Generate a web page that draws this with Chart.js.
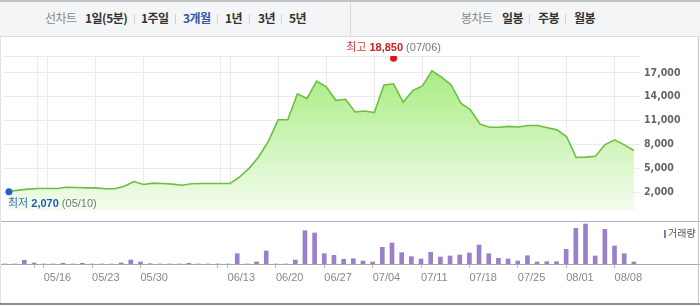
<!DOCTYPE html>
<html>
<head>
<meta charset="utf-8">
<script src="https://cdn.jsdelivr.net/npm/chart.js@4.4.0/dist/chart.umd.min.js"></script>
<style>
    body { margin: 0; background: #fff; }
    #caja { position: relative; width: 700px; height: 306px; overflow: hidden; font-family: "Noto Sans CJK KR", sans-serif; }
    #cabecera { position: absolute; left: 0; top: 0; width: 700px; height: 34px; background: #f4f5f7; border-top: 2px solid #c4c4c4; border-bottom: 1px solid #dcdcdc; }
    #cabecera span { position: absolute; top: 8px; font-size: 12px; font-weight: bold; color: #333; line-height: 16px; white-space: nowrap; letter-spacing: -0.5px; }
    #cabecera span.gris { color: #888; font-weight: normal; }
    #cabecera span.azul { color: #3656a8; }
    #cabecera i { position: absolute; top: 12px; width: 1px; height: 10px; background: #d2d2d2; }
    #divisor { position: absolute; left: 350px; top: 0; width: 1px; height: 34px; background: #dadada; }
    .linea { position: absolute; background: #c8c8c8; }
    canvas { position: absolute; left: 0; }
</style>
</head>
<body>
<div id="caja">
    <div id="cabecera">
        <span class="gris" style="left:45px">선차트</span>
        <span style="left:85px">1일(5분)</span><i style="left:134px"></i>
        <span style="left:141px">1주일</span><i style="left:175px"></i>
        <span class="azul" style="left:183px">3개월</span><i style="left:217px"></i>
        <span style="left:225px">1년</span><i style="left:249px"></i>
        <span style="left:258px">3년</span><i style="left:281px"></i>
        <span style="left:289px">5년</span>
        <div id="divisor"></div>
        <span class="gris" style="left:461px">봉차트</span>
        <span style="left:502px">일봉</span><i style="left:529px"></i>
        <span style="left:538px">주봉</span><i style="left:565px"></i>
        <span style="left:574px">월봉</span>
    </div>
    <canvas id="graficoPrecio" width="700" height="184" style="top:37px"></canvas>
    <canvas id="graficoVolumen" width="700" height="84" style="top:222px"></canvas>
    <div class="linea" style="left:0;top:221px;width:700px;height:1px;background:#b4b4b4"></div>
    <div class="linea" style="left:0;top:37px;width:1px;height:268px;background:#e2e2e2"></div>
    <div class="linea" style="left:698px;top:37px;width:1px;height:268px"></div>
    <div class="linea" style="left:0;top:303px;width:700px;height:2px;background:#8c8c8c"></div>
</div>

<script>
const fechas = [
    "05/10", "05/11", "05/12", "05/13",
    "05/16", "05/17", "05/18", "05/19", "05/20",
    "05/23", "05/24", "05/25", "05/26", "05/27",
    "05/30", "05/31", "06/01", "06/02", "06/03", "06/07", "06/08", "06/09", "06/10",
    "06/13", "06/14", "06/15", "06/16", "06/17",
    "06/20", "06/21", "06/22", "06/23", "06/24",
    "06/27", "06/28", "06/29", "06/30", "07/01",
    "07/04", "07/05", "07/06", "07/07", "07/08",
    "07/11", "07/12", "07/13", "07/14", "07/15",
    "07/18", "07/19", "07/20", "07/21", "07/22",
    "07/25", "07/26", "07/27", "07/28", "07/29",
    "08/01", "08/02", "08/03", "08/04", "08/05",
    "08/08", "08/09", "08/10"
];

const precios = [
    2100, 2270, 2390, 2470,
    2470, 2470, 2630, 2590, 2550,
    2550, 2430, 2430, 2750, 3340,
    2980, 3140, 3100, 3020, 2880, 3060, 3100, 3100, 3100,
    3100, 3930, 5030, 6490, 8460,
    11100, 11100, 14370, 13780, 15950,
    15240, 13550, 13680, 12090, 12200,
    12000, 15480, 15630, 13300, 14770,
    15360, 17250, 16460, 15480, 13180,
    12350, 10550, 10160, 10160, 10280,
    10200, 10390, 10390, 10110, 9840,
    8970, 6370, 6410, 6530, 7990,
    8580, 7950, 7240
];

// volumen en miles de acciones
const volumenes = [
    0, 0, 370, 100,
    0, 0, 70, 0, 70,
    0, 0, 0, 100, 400,
    200, 30, 0, 0, 0, 70, 0, 0, 0,
    0, 1030, 0, 200, 1300,
    0, 0, 400, 3330, 3100,
    1030, 870, 470, 530, 300,
    200, 1670, 2100, 1130, 730,
    500, 1170, 700, 800, 900,
    1100, 1900, 1030, 570, 500,
    300, 830, 200, 230, 230,
    1470, 3570, 4000, 800, 3470,
    1800, 1030, 200
];

const lineasFechas = ["05/13", "05/16", "05/23", "05/30", "06/10", "06/13", "06/20", "06/27", "07/04", "07/11", "07/18", "07/25", "08/01", "08/08"];
const etiquetasFechas = ["05/16", "05/23", "05/30", "06/13", "06/20", "06/27", "07/04", "07/11", "07/18", "07/25", "08/01", "08/08"];
const ticksPrecio = [2000, 5000, 8000, 11000, 14000, 17000];

const maximo = { fecha: "07/06", valor: 18850 };
const minimo = { fecha: "05/10", valor: 2070 };

const PASO = 9.675;
const X_MIN = -5 / PASO;
const Y_MIN = -320;
const Y_MAX = 19120;

const indicesLineas = lineasFechas.map(f => fechas.indexOf(f));
const indicesEtiquetas = etiquetasFechas.map(f => fechas.indexOf(f));

const fuenteKr = '"Liberation Sans", "Noto Sans CJK KR", sans-serif';

function dibujarPartes(ctx, partes, x, y, centrado) {
    let total = 0;
    partes.forEach(p => {
        ctx.font = p.font;
        p.ancho = ctx.measureText(p.texto).width;
        total += p.ancho;
    });
    let inicio = centrado ? x - total / 2 : x;
    ctx.textBaseline = "middle";
    ctx.textAlign = "left";
    partes.forEach(p => {
        ctx.font = p.font;
        ctx.fillStyle = p.color;
        ctx.fillText(p.texto, inicio, y);
        inicio += p.ancho;
    });
}

const pluginMarcas = {
    id: "marcas",
    afterDatasetsDraw(chart) {
        const ctx = chart.ctx;
        const sx = chart.scales.x;
        const sy = chart.scales.y;
        ctx.save();

        let xa = sx.getPixelForValue(fechas.indexOf(maximo.fecha));
        let ya = sy.getPixelForValue(maximo.valor);
        dibujarPartes(ctx, [
            { texto: "최고 ", font: "11px " + fuenteKr, color: "#d23a3a" },
            { texto: maximo.valor.toLocaleString("en-US"), font: "bold 11px " + fuenteKr, color: "#cc1f1f" },
            { texto: " (" + maximo.fecha + ")", font: "11px " + fuenteKr, color: "#777" }
        ], xa, ya - 10, true);

        let xb = sx.getPixelForValue(fechas.indexOf(minimo.fecha));
        let yb = sy.getPixelForValue(minimo.valor);
        dibujarPartes(ctx, [
            { texto: "최저 ", font: "11px " + fuenteKr, color: "#3a6cc0" },
            { texto: minimo.valor.toLocaleString("en-US"), font: "bold 11px " + fuenteKr, color: "#2358b0" },
            { texto: " (" + minimo.fecha + ")", font: "11px " + fuenteKr, color: "#777" }
        ], xb - 1, yb + 12, false);

        ctx.restore();
    }
};

const pluginLeyenda = {
    id: "leyenda",
    afterDraw(chart) {
        const ctx = chart.ctx;
        ctx.save();
        ctx.fillStyle = "#8d72c0";
        ctx.fillRect(664, 8, 2, 8);
        ctx.font = "10px " + fuenteKr;
        ctx.fillStyle = "#555";
        ctx.textBaseline = "middle";
        ctx.fillText("거래량", 668, 12);
        ctx.restore();
    }
};

function cargarGraficoPrecio() {
    const ctx = document.getElementById("graficoPrecio").getContext("2d");

    new Chart(ctx, {
        type: "line",
        data: {
            datasets: [
                {
                    data: [{ x: fechas.indexOf(maximo.fecha), y: maximo.valor }],
                    showLine: false,
                    pointRadius: 3.5,
                    pointBackgroundColor: "#e8141a",
                    pointBorderWidth: 0
                },
                {
                    data: [{ x: fechas.indexOf(minimo.fecha), y: minimo.valor }],
                    showLine: false,
                    pointRadius: 3.5,
                    pointBackgroundColor: "#1d5fd0",
                    pointBorderWidth: 0
                },
                {
                    data: precios.map((p, i) => ({ x: i, y: p })),
                    borderColor: "#6cbf40",
                    borderWidth: 1.6,
                    pointRadius: 0,
                    tension: 0,
                    fill: "start",
                    backgroundColor: (c) => {
                        const area = c.chart.chartArea;
                        if (!area) return "#d6f7c4";
                        const g = c.chart.ctx.createLinearGradient(0, area.top, 0, area.bottom);
                        g.addColorStop(0, "#a2ea78");
                        g.addColorStop(1, "#f3fdee");
                        return g;
                    }
                }
            ]
        },
        options: {
            responsive: false,
            animation: false,
            layout: { padding: { top: 19, left: 0, right: 0, bottom: 0 } },
            plugins: { legend: { display: false }, tooltip: { enabled: false } },
            scales: {
                x: {
                    type: "linear",
                    min: X_MIN,
                    max: X_MIN + 640 / PASO,
                    afterBuildTicks: (eje) => { eje.ticks = indicesLineas.map(v => ({ value: v })); },
                    afterFit: (eje) => { eje.height = 0; },
                    ticks: { display: false },
                    grid: { color: "#ebebeb", drawTicks: false },
                    border: { display: false }
                },
                y: {
                    position: "right",
                    min: Y_MIN,
                    max: Y_MAX,
                    afterBuildTicks: (eje) => { eje.ticks = ticksPrecio.concat([Y_MAX]).map(v => ({ value: v })); },
                    afterFit: (eje) => { eje.width = 60; },
                    ticks: {
                        padding: 4,
                        crossAlign: "near",
                        color: "#666",
                        font: { family: '"DejaVu Sans Condensed", "DejaVu Sans"', size: 10.5, weight: "bold" },
                        callback: (v) => v === Y_MAX ? "" : v.toLocaleString("en-US")
                    },
                    grid: { color: "#ebebeb", drawTicks: false },
                    border: { display: false }
                }
            }
        },
        plugins: [pluginMarcas]
    });
}

function cargarGraficoVolumen() {
    const ctx = document.getElementById("graficoVolumen").getContext("2d");

    new Chart(ctx, {
        type: "bar",
        data: {
            datasets: [{
                data: volumenes.map((v, i) => ({ x: i, y: v })),
                backgroundColor: "#9a80c8",
                barThickness: 4
            }]
        },
        options: {
            responsive: false,
            animation: false,
            layout: { padding: 0 },
            plugins: { legend: { display: false }, tooltip: { enabled: false } },
            scales: {
                x: {
                    type: "linear",
                    offset: false,
                    min: X_MIN,
                    max: X_MIN + 700 / PASO,
                    afterBuildTicks: (eje) => { eje.ticks = indicesLineas.map(v => ({ value: v })); },
                    afterFit: (eje) => { eje.height = 42; },
                    ticks: {
                        align: "start",
                        autoSkip: false,
                        maxRotation: 0,
                        padding: 3,
                        color: "#888",
                        font: { family: '"Liberation Sans", sans-serif', size: 11 },
                        callback: (v) => indicesEtiquetas.includes(v) ? fechas[v] : ""
                    },
                    grid: { offset: false, drawOnChartArea: false, drawTicks: true, tickLength: 4, color: "#b8b8b8" },
                    border: { display: true, color: "#a8a8a8" }
                },
                y: {
                    display: false,
                    min: 0,
                    max: 4200
                }
            }
        },
        plugins: [pluginLeyenda]
    });
}

cargarGraficoPrecio();
cargarGraficoVolumen();
</script>
</body>
</html>
